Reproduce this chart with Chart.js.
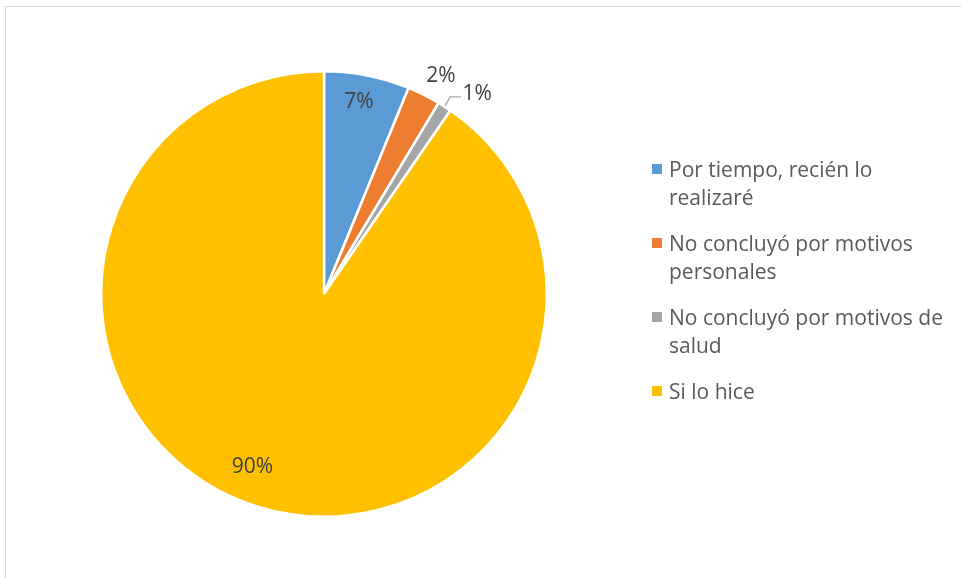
<!DOCTYPE html>
<html>
<head>
<meta charset="utf-8">
<script src="https://cdn.jsdelivr.net/npm/chart.js@4"></script>
<style>
  html, body { margin: 0; padding: 0; background: #fff; overflow: hidden; }
  #wrap { position: relative; width: 961px; height: 578px; }
  #frame { position: absolute; left: 5px; top: 6px; width: 1000px; height: 620px; border: 1px solid #d9d9d9; box-sizing: border-box; }
  #chart { position: absolute; left: 0; top: 0; }
  #legend { position: absolute; left: 651px; top: 155px; font-family: "Open Sans", sans-serif; font-size: 21px; color: #595959; }
  .item { position: relative; padding-left: 18px; line-height: 28px; margin-bottom: 18px; white-space: nowrap; }
  .box { position: absolute; left: 1px; top: 9px; width: 10px; height: 10px; }
</style>
</head>
<body>
<div id="wrap">
  <div id="frame"></div>
  <canvas id="chart" width="961" height="578"></canvas>
  <div id="legend"></div>
</div>
<script>
// categories (already split into lines like the legend shows them)
const categories = [
  ["Por tiempo, recién lo", "realizaré"],
  ["No concluyó por motivos", "personales"],
  ["No concluyó por motivos de", "salud"],
  ["Si lo hice"]
];
// share of answers
const values = [6.2, 2.4, 1.0, 90.4];
// data labels as printed on the chart
const labelText = ["7%", "2%", "1%", "90%"];
const colors = ["#5B9BD5", "#ED7D31", "#A5A5A5", "#FFC000"];

// where each label goes: angle shift from slice middle (deg) and radius factor
const labelPlace = [
  { shift: -0.8, r: 0.875 },
  { shift: 1.6, r: 1.11 },
  { shift: 0, r: 1, leader: true },
  { shift: 5.2, r: 0.84 }
];

// draws the percentage labels (and the leader line for the small slice)
const pieLabels = {
  id: "pieLabels",
  afterDatasetsDraw(chart) {
    const ctx = chart.ctx;
    const meta = chart.getDatasetMeta(0);
    ctx.save();
    ctx.font = "21px 'Open Sans', sans-serif";
    ctx.fillStyle = "#404040";
    ctx.textAlign = "center";
    ctx.textBaseline = "middle";
    meta.data.forEach((arc, i) => {
      const p = arc.getProps(["x", "y", "startAngle", "endAngle", "outerRadius"], true);
      const place = labelPlace[i];
      const mid = (p.startAngle + p.endAngle) / 2 + place.shift * Math.PI / 180;
      const rr = p.outerRadius * place.r;
      let lx = p.x + Math.cos(mid) * rr;
      let ly = p.y + Math.sin(mid) * rr;
      if (place.leader) {
        const a = (p.startAngle + p.endAngle) / 2;
        const sx = p.x + Math.cos(a) * (p.outerRadius + 1);
        const sy = p.y + Math.sin(a) * (p.outerRadius + 1);
        ctx.strokeStyle = "#a6a6a6";
        ctx.lineWidth = 1.3;
        ctx.beginPath();
        ctx.moveTo(sx, sy);
        ctx.lineTo(sx + 5, sy - 9);
        ctx.lineTo(sx + 16, sy - 9);
        ctx.stroke();
        lx = sx + 32;
        ly = sy - 12;
      }
      ctx.fillText(labelText[i], lx, ly);
    });
    ctx.restore();
  }
};

new Chart(document.getElementById("chart"), {
  type: "pie",
  data: {
    labels: categories,
    datasets: [{
      data: values,
      backgroundColor: colors,
      borderColor: "#ffffff",
      borderWidth: 2.5
    }]
  },
  options: {
    responsive: false,
    animation: false,
    layout: { padding: { left: 100, top: 70, right: 413, bottom: 60 } },
    plugins: {
      legend: { display: false },
      tooltip: { enabled: false }
    }
  },
  plugins: [pieLabels]
});

// legend on the right, built from the same arrays
const legendEl = document.getElementById("legend");
categories.forEach((lines, i) => {
  const item = document.createElement("div");
  item.className = "item";
  const box = document.createElement("span");
  box.className = "box";
  box.style.background = colors[i];
  item.appendChild(box);
  lines.forEach((t) => {
    const line = document.createElement("div");
    line.textContent = t;
    item.appendChild(line);
  });
  legendEl.appendChild(item);
});
</script>
</body>
</html>
